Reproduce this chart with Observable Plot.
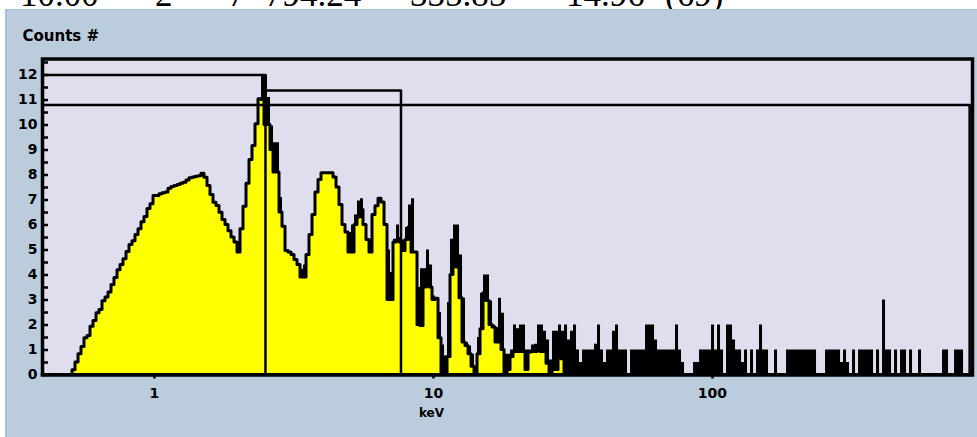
<!DOCTYPE html>
<html><head><meta charset="utf-8">
<script src="https://cdn.jsdelivr.net/npm/d3@7"></script>
<script src="https://cdn.jsdelivr.net/npm/@observablehq/plot@0.6"></script>
<style>
html,body{margin:0;padding:0;background:#fff;}
#wrap{position:relative;width:977px;height:437px;overflow:hidden;background:#fff;}
#hdr{position:absolute;left:0;top:-23px;width:977px;height:40px;font-family:"Liberation Serif","Times New Roman",serif;font-size:35px;line-height:35px;color:#000;white-space:nowrap;}
#hdr span{position:absolute;top:0;}
#panel{position:absolute;left:5px;top:9px;width:972px;height:428px;background:#BBCCDC;border-left:2px solid #A6BED8;border-top:1px solid #A6BED8;box-sizing:border-box;}
#chart{position:absolute;left:0;top:9px;}
</style></head>
<body>
<div id="wrap">
  <div id="hdr"></div>
  <div id="panel"></div>
  <div id="chart"></div>
</div>
<script>
// header line values (partly cut off in the original)
const headerTexts = ["10.00", "2", "7", "794.24", "335.85", "14.96", "(69)"];
const headerLeft = [20, 155, 228, 265, 410, 566, 665];

// spectrum: log-spaced display channels
const firstEdgeKeV = 0.397;
const channelsPerDecade = 93;
// upper envelope (raw counts) per channel
const countsHigh = [
0,0,0,0,0,0,0,0,0,0,
0.19,0.5,0.83,1.12,1.47,1.56,1.93,2.16,2.47,2.6,
2.95,3.1,3.3,3.6,3.88,4.19,4.4,4.63,4.92,5.2,
5.35,5.6,5.83,6.11,6.32,6.64,6.83,7.16,7.16,7.23,
7.27,7.3,7.45,7.52,7.56,7.6,7.65,7.69,7.78,7.87,
7.9,7.93,7.95,8.05,7.89,7.56,7.2,6.89,6.76,6.49,
6.2,6.0,5.75,5.5,5.3,5.03,5.83,6.73,7.65,8.6,
9.16,10.03,11.03,12.0,12.0,11.1,9.96,9.29,9.29,7.1,
5.93,4.96,4.9,4.8,4.6,4.4,4.23,4.4,4.8,5.6,
6.4,7.3,7.8,8.07,8.07,8.07,8.07,7.9,7.5,6.8,
6.0,5.7,5.7,6.0,6.4,6.96,7.05,6.0,5.4,5.4,
6.4,6.75,7.05,6.9,6.0,5.0,4.1,5.43,6.0,5.5,
5.4,5.9,6.8,7.05,4.9,3.5,4.25,4.25,5.0,4.4,
3.16,3.05,2.5,1.2,0.76,2.9,5.43,6.0,6.0,4.8,
3.07,1.3,1.16,0.83,0.33,1.5,3.27,4.0,4.0,2.96,
2.0,1.9,3.07,2.47,0.83,0.83,1,2,1.85,2,
2,1,1,1.2,1.23,2,2,1.75,1.4,0.6,
1.75,1.75,2,1.75,2,1.4,1.75,2,1,0.5,
1,1,1,1,1.23,2,1,0.5,1,1,
1.75,2,1,1,1,0,1,1,1,1,
1,2,2,2,1.4,1,1,1,1,1,
1,2,1,0.5,0,0,0,0.5,0.5,1,
1,1,1,2,1,2,1,0,2,2,
1.4,1,1,0.5,1,0,1,0,1,2,
1,1,0,0,1,0,0,0,1,1,
1,1,1,1,1,1,1,1,0,0,
0,1,1,1,1,1,0.5,1,0.5,0,
1,0,1,1,1,1,1,0,1,0,
3,1,1,0,1,0,1,1,0,1,
0,0,1,0,0,0,0,0,0,0,
1,1,0,0,1,1,1,0,0,0
];
// lower level of each channel (smoothed fill), yellow
const countsLow = [
0,0,0,0,0,0,0,0,0,0,
0.19,0.5,0.83,1.12,1.47,1.56,1.93,2.16,2.47,2.6,
2.95,3.1,3.3,3.6,3.88,4.19,4.4,4.63,4.92,5.2,
5.35,5.6,5.83,6.11,6.32,6.64,6.83,7.16,7.16,7.23,
7.27,7.3,7.45,7.52,7.56,7.6,7.65,7.69,7.78,7.87,
7.9,7.93,7.95,8.05,7.89,7.56,7.2,6.89,6.76,6.49,
6.2,6.0,5.75,5.5,5.3,4.9,5.83,6.73,7.65,8.6,
9.16,10.03,11.03,11.0,10.0,10.0,9.0,8.1,8.1,6.5,
5.93,4.96,4.9,4.8,4.6,4.4,3.9,3.9,4.8,5.6,
6.4,7.3,7.8,8.07,8.07,8.07,8.07,7.9,7.5,6.8,
6.0,5.7,4.9,4.9,6.0,6.3,6.6,6.0,5.4,4.9,
6.4,6.75,7.05,6.9,6.0,3.0,3.0,5.3,5.36,5.3,
4.96,5.4,5.9,4.9,4.9,2.0,1.96,3.5,4.2,3.5,
3.0,3.05,1.47,0,0,0.72,4.0,4.7,4.3,3.07,
1.3,1.16,0.83,0.33,0,0.83,1.83,3.27,2.96,2.0,
1.9,1.3,1.3,1.0,0,0.2,0.72,0.92,0.92,0.92,
0.92,0.2,0.9,0.92,0.92,1.12,0.92,0.92,0.45,0,
0.2,0.2,1.63,0.63,0,0,0,0,0,0,
0,0.2,0,0,0,0,0.2,0,0.45,0,
0,0,0,0,0,0,0,0,0,0,
0,0,0,0,0,0,0,0,0,0,
0,0,0,0,0,0,0,0,0,0,
0,0,0,0,0,0,0,0,0,0,
0,0,0,0,0,0,0,0,0,0,
0,0,0,0,0,0,0,0,0,0,
0,0,0,0,0,0,0,0,0,0,
0,0,0,0,0,0,0,0,0,0,
0,0,0,0,0,0,0,0,0,0,
0,0,0,0,0,0,0,0,0,0,
0,0,0,0,0,0,0,0,0,0,
0,0,0,0,0,0,0,0,0,0
];
// markers (cursor lines)
const markerKeV = [2.5, 7.65, 835];
const markerLevel = [12, 11.38, 10.8];
const markerStartKeV = [0.397, 2.5, 0.397];

// axis ticks
const xTickValues = [1, 10, 100];
const yLabelValues = [0,1,2,3,4,5,6,7,8,9,10,11,12];
const yMinorTicks = d3.range(0, 12.6, 0.5);
const xDomain = [0.397, 855];
const yDomain = [0, 12.64];

// header
const headerEl = document.getElementById("hdr");
headerTexts.forEach((t, i) => {
  const s = document.createElement("span");
  s.textContent = t;
  s.style.left = headerLeft[i] + "px";
  headerEl.appendChild(s);
});

const edge = i => firstEdgeKeV * Math.pow(10, i / channelsPerDecade);
const spec = countsHigh.map((h, i) => ({e: edge(i), hi: h, lo: countsLow[i]}));
spec.push({e: edge(countsHigh.length), hi: 0, lo: 0});

const markerPts = [];
markerKeV.forEach((k, i) => {
  markerPts.push({e: markerStartKeV[i], y: markerLevel[i], id: i});
  markerPts.push({e: k, y: markerLevel[i], id: i});
  markerPts.push({e: k, y: 0, id: i});
});

const chart = Plot.plot({
  width: 977,
  height: 428,
  marginLeft: 42,
  marginRight: 5,
  marginTop: 49.5,
  marginBottom: 62.5,
  style: {background: "transparent", fontFamily: "DejaVu Sans", fontSize: "14px", fontWeight: "bold", color: "#000"},
  x: {type: "log", domain: xDomain, axis: null},
  y: {domain: yDomain, axis: null},
  marks: [
    Plot.frame({fill: "#DEDEEE", stroke: null}),
    Plot.areaY(spec, {x: "e", y: "hi", curve: "step-after", fill: "#000"}),
    Plot.areaY(spec, {x: "e", y: "lo", curve: "step-after", fill: "#FFFF00", stroke: "#000", strokeWidth: 3}),
    Plot.line(markerPts, {x: "e", y: "y", z: "id", stroke: "#000", strokeWidth: 2.5}),
    Plot.tickY(yMinorTicks, {y: d => d, stroke: "#000", strokeWidth: 2.5, insetRight: 924}),
    Plot.axisY(yLabelValues, {tickSize: 0, tickPadding: 5, label: null, fontWeight: "bold", fontSize: 14}),
    Plot.axisX(xTickValues, {tickSize: 4, tickPadding: 9, tickFormat: d => String(d), label: null, strokeWidth: 2.5, fontWeight: "bold", fontSize: 14}),
    Plot.text(["Counts #"], {frameAnchor: "top-left", lineAnchor: "middle", dx: -20, dy: -23, textAnchor: "start", fontSize: 15, fontWeight: "bold"}),
    Plot.text(["keV"], {frameAnchor: "bottom", lineAnchor: "middle", dx: -76, dy: 38, fontSize: 12, fontWeight: "bold"}),
    Plot.frame({stroke: "#000", strokeWidth: 3.5})
  ]
});
document.getElementById("chart").appendChild(chart);
</script>
</body></html>
